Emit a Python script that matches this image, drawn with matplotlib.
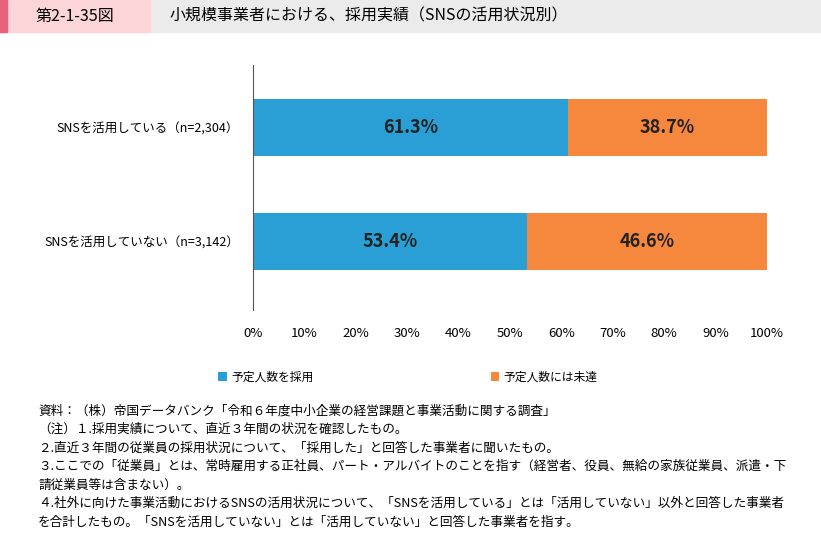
import matplotlib.pyplot as plt
from matplotlib.patches import Rectangle

plt.rcParams['font.family'] = 'Noto Sans CJK JP'

categories = ['SNSを活用している（n=2,304）', 'SNSを活用していない（n=3,142）']
adopted = [61.3, 53.4]
not_reached = [38.7, 46.6]
series_names = ['予定人数を採用', '予定人数には未達']
colors = ['#2a9fd6', '#f5883c']

W, H = 821, 536
fig = plt.figure(figsize=(W / 100, H / 100), dpi=100)

# header
fig.patches.append(Rectangle((0, 1 - 32 / H), 1, 32 / H, transform=fig.transFigure, color='#ebebeb'))
fig.patches.append(Rectangle((0, 1 - 32 / H), 150 / W, 32 / H, transform=fig.transFigure, color='#fcd5d8'))
fig.patches.append(Rectangle((0, 1 - 32 / H), 7 / W, 32 / H, transform=fig.transFigure, color='#e8607a'))
fig.text(75 / W, 1 - 16 / H, '第2-1-35図', ha='center', va='center', fontsize=11.5)
fig.text(170 / W, 1 - 16 / H, '小規模事業者における、採用実績（SNSの活用状況別）', ha='left', va='center', fontsize=11.5)

ax = fig.add_axes([253 / W, 1 - 310 / H, 514 / W, 245 / H])
y = [1, 0]
ax.barh(y, adopted, height=0.5, color=colors[0], label=series_names[0])
ax.barh(y, not_reached, left=adopted, height=0.5, color=colors[1], label=series_names[1])
for yi, a, b in zip(y, adopted, not_reached):
    ax.text(a / 2, yi, f'{a}%', ha='center', va='center', fontsize=13, fontweight='bold', color='#222')
    ax.text(a + b / 2, yi, f'{b}%', ha='center', va='center', fontsize=13, fontweight='bold', color='#222')
ax.set_yticks(y)
ax.set_yticklabels(categories, fontsize=9)
ax.set_xlim(0, 100)
ax.set_ylim(-0.6, 1.55)
ax.set_xticks(range(0, 101, 10))
ax.set_xticklabels([f'{v}%' for v in range(0, 101, 10)], fontsize=9.5)
ax.tick_params(length=0, pad=10)
ax.tick_params(axis='x', pad=12)
for s in ['top', 'right', 'bottom']:
    ax.spines[s].set_visible(False)
ax.spines['left'].set_color('#555')

fig.legend(loc='center', bbox_to_anchor=(408 / W, 1 - 377 / H), ncol=2, frameon=False,
           fontsize=8.5, handlelength=0.7, handleheight=0.7, handletextpad=0.4, columnspacing=15)

notes = [
    '資料：（株）帝国データバンク「令和６年度中小企業の経営課題と事業活動に関する調査」',
    '（注）１.採用実績について、直近３年間の状況を確認したもの。',
    '２.直近３年間の従業員の採用状況について、「採用した」と回答した事業者に聞いたもの。',
    '３.ここでの「従業員」とは、常時雇用する正社員、パート・アルバイトのことを指す（経営者、役員、無給の家族従業員、派遣・下',
    '請従業員等は含まない）。',
    '４.社外に向けた事業活動におけるSNSの活用状況について、「SNSを活用している」とは「活用していない」以外と回答した事業者',
    'を合計したもの。「SNSを活用していない」とは「活用していない」と回答した事業者を指す。',
]
for i, t in enumerate(notes):
    fig.text(38 / W, 1 - (411 + i * 18.5) / H, t, ha='left', va='center', fontsize=9.1)

fig.savefig('out.png', dpi=100)
